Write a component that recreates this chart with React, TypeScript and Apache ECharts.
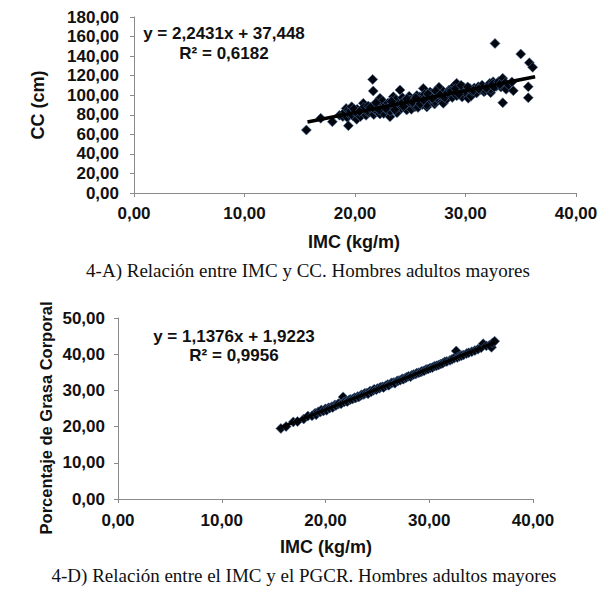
import React, { useEffect, useRef } from "react";
import * as echarts from "echarts";

// IMC (kg/m) vs CC (cm), older adult men
const imcVsCc: [number, number][] = [
  [15.6, 64.4], [16.9, 76.4], [17.95, 72.9], [18.6, 79.5], [18.9, 78.2], [19.0, 81.4],
  [19.1, 83.1], [19.2, 86.5], [19.3, 77.1], [19.4, 68.8], [19.4, 84.9], [19.5, 80.3],
  [19.6, 83.9], [19.7, 88.2], [19.8, 79.0], [20.0, 82.6], [20.15, 75.4], [20.2, 85.7],
  [20.3, 80.1], [20.5, 78.3], [20.6, 84.2], [20.75, 91.7], [20.8, 87.6], [20.9, 81.0],
  [21.0, 79.4], [21.1, 83.1], [21.2, 88.9], [21.3, 82.7], [21.5, 85.1], [21.6, 116.2],
  [21.65, 104.3], [21.6, 85.5], [21.7, 80.2], [21.8, 90.3], [21.9, 84.0], [22.0, 87.2],
  [22.1, 82.5], [22.26, 96.8], [22.26, 80.9], [22.3, 89.6], [22.4, 85.0], [22.5, 94.2],
  [22.6, 81.3], [22.7, 87.9], [22.8, 90.0], [22.9, 84.6], [23.0, 92.1], [23.1, 88.4],
  [23.17, 78.0], [23.2, 83.7], [23.4, 90.8], [23.47, 98.5], [23.5, 86.2], [23.6, 88.0],
  [23.7, 95.6], [23.8, 82.1], [23.9, 89.3], [24.07, 105.3], [24.1, 92.7], [24.2, 86.8],
  [24.3, 97.5], [24.37, 93.4], [24.5, 90.2], [24.6, 87.3], [24.68, 84.9], [24.8, 93.8],
  [24.9, 98.9], [24.98, 95.1], [25.0, 89.1], [25.1, 85.6], [25.3, 95.4], [25.4, 91.7],
  [25.43, 88.3], [25.6, 99.8], [25.7, 87.5], [25.8, 94.3], [25.88, 98.5], [26.0, 96.1],
  [26.1, 90.4], [26.18, 107.0], [26.3, 100.9], [26.4, 93.2], [26.5, 88.0], [26.5, 90.0],
  [26.7, 97.9], [26.8, 103.2], [26.9, 94.6], [26.94, 102.0], [27.1, 99.3], [27.2, 91.0],
  [27.24, 93.4], [27.4, 101.7], [27.5, 96.4], [27.54, 105.3], [27.6, 108.1], [27.8, 98.6],
  [27.9, 93.5], [27.99, 91.7], [28.0, 103.9], [28.2, 100.2], [28.3, 96.0], [28.3, 100.2],
  [28.5, 105.3], [28.6, 101.1], [28.75, 107.0], [28.8, 97.7], [28.9, 103.0], [29.0, 109.8],
  [29.2, 112.2], [29.2, 99.4], [29.3, 106.1], [29.35, 102.0], [29.5, 102.5], [29.7, 98.2],
  [29.8, 105.3], [29.8, 108.4], [30.0, 104.0], [30.1, 101.3], [30.25, 96.8], [30.3, 106.8],
  [30.4, 107.0], [30.5, 99.0], [30.6, 103.9], [30.8, 107.5], [31.0, 102.2], [31.16, 108.7],
  [31.3, 105.6], [31.5, 110.3], [31.67, 103.6], [31.8, 104.7], [32.0, 108.9], [32.2, 112.2],
  [32.28, 102.6], [32.3, 106.0], [32.5, 113.8], [32.5, 111.4], [32.67, 153.0], [32.8, 109.2],
  [33.0, 114.0], [33.2, 108.3], [33.37, 117.3], [33.37, 92.3], [33.6, 112.7], [33.67, 106.0],
  [33.9, 110.5], [34.2, 113.6], [34.33, 104.6], [35.0, 142.1], [35.68, 108.7], [35.68, 97.4],
  [35.78, 133.2], [36.08, 128.5],
  [19.9, 86.1], [20.4, 83.3], [21.4, 87.8], [21.9, 92.4], [22.2, 84.8], [22.8, 86.3],
  [23.3, 93.6], [23.6, 85.1], [24.4, 88.6], [24.7, 96.0], [25.2, 92.9], [25.5, 97.2],
  [25.9, 91.1], [26.2, 95.0], [26.6, 101.4], [27.0, 96.8], [27.3, 104.4], [27.7, 100.5],
  [28.1, 97.9], [28.4, 102.7], [28.7, 104.2], [29.1, 106.7], [29.4, 100.9], [29.6, 110.1],
  [30.2, 108.5], [30.7, 104.8], [31.2, 106.4], [31.9, 107.3], [32.6, 108.1], [33.1, 111.0],
];

// IMC (kg/m) vs body fat percentage, older adult men
const imcVsGrasa: [number, number][] = [
  [15.7, 19.5], [16.2, 20.0], [16.9, 21.3], [17.3, 21.4], [17.9, 22.1], [18.3, 22.9],
  [18.7, 23.0], [19.0, 23.7], [19.1, 23.3], [19.3, 24.1], [19.5, 24.0], [19.6, 24.6],
  [19.8, 24.3], [20.0, 24.9], [20.1, 24.5], [20.3, 25.2], [20.4, 25.1], [20.6, 25.5],
  [20.7, 25.3], [20.9, 26.0], [21.0, 25.8], [21.2, 26.2], [21.3, 26.4], [21.5, 26.3],
  [21.7, 28.2], [21.8, 26.8], [22.0, 27.1], [22.1, 26.9], [22.3, 27.4], [22.4, 27.5],
  [22.6, 27.6], [22.8, 28.0], [22.9, 27.9], [23.1, 28.3], [23.2, 28.2], [23.4, 28.6],
  [23.5, 28.8], [23.7, 28.9], [23.8, 29.2], [24.0, 29.3], [24.1, 29.1], [24.3, 29.8],
  [24.4, 29.6], [24.6, 30.0], [24.7, 30.3], [24.9, 30.2], [25.0, 30.5], [25.2, 30.6],
  [25.3, 30.9], [25.5, 31.0], [25.6, 30.8], [25.8, 31.3], [26.0, 31.6], [26.1, 31.4],
  [26.3, 31.9], [26.4, 32.1], [26.6, 32.2], [26.7, 32.0], [26.9, 32.6], [27.0, 32.7],
  [27.2, 32.8], [27.4, 33.2], [27.5, 33.1], [27.7, 33.4], [27.8, 33.6], [28.0, 33.9],
  [28.2, 33.8], [28.3, 34.2], [28.5, 34.4], [28.7, 34.5], [28.8, 34.8], [29.0, 34.9],
  [29.2, 35.1], [29.3, 35.3], [29.5, 35.4], [29.7, 35.8], [29.9, 35.9], [30.1, 36.2],
  [30.3, 36.3], [30.5, 36.7], [30.7, 36.8], [30.9, 37.0], [31.1, 37.3], [31.3, 37.5],
  [31.5, 37.9], [31.7, 38.0], [32.0, 38.3], [32.2, 38.6], [32.4, 38.9], [32.6, 40.9],
  [32.7, 39.1], [32.9, 39.4], [33.1, 39.6], [33.3, 39.8], [33.6, 40.2], [33.8, 40.4],
  [34.1, 40.7], [34.4, 41.0], [34.7, 41.4], [35.0, 41.8], [35.2, 42.9], [35.5, 42.3],
  [35.8, 42.5], [36.0, 41.9], [36.1, 43.1], [36.3, 43.6],
];

// Linear trend lines (slope, intercept, R²) and the IMC range they span
const trendCc = { slope: 2.2431, intercept: 37.448, r2: 0.6182 };
const trendGrasa = { slope: 1.1376, intercept: 1.9223, r2: 0.9956 };
const trendRange = [15.7, 36.3];

const xTicks = { min: 0, max: 40, interval: 10 };
const yTicksCc = { min: 0, max: 180, interval: 20 };
const yTicksGrasa = { min: 0, max: 50, interval: 10 };

const comma = (v: number, d: number) => v.toFixed(d).replace(".", ",");
const eqText = (t: { slope: number; intercept: number }) =>
  `y = ${comma(t.slope, 4)}x + ${String(t.intercept).replace(".", ",")}`;
const r2Text = (t: { r2: number }) => `R² = ${comma(t.r2, 4)}`;
const linePts = (t: { slope: number; intercept: number }) =>
  trendRange.map((x) => [x, t.slope * x + t.intercept]);

const SANS = "Liberation Sans";
const SERIF = "Liberation Serif";
const INK = "#111111";

export default function App() {
  const ref = useRef<HTMLDivElement>(null);

  useEffect(() => {
    if (!ref.current) return;
    const chart = echarts.init(ref.current, undefined, { renderer: "svg" });

    const axisCommon = {
      axisLine: { lineStyle: { color: "#8a8a8a", width: 1 } },
      axisTick: { show: true, inside: false, length: 4, lineStyle: { color: "#8a8a8a" } },
      splitLine: { show: false },
    };
    const label = (margin: number) => ({
      margin,
      color: INK,
      fontFamily: SANS,
      fontWeight: "bold" as const,
      fontSize: 17,
      formatter: (v: number) => comma(v, 2),
    });

    const marker = (size: number) => ({
      symbol: "diamond",
      symbolSize: size,
      itemStyle: { color: "#03060d", borderColor: "#46699c", borderWidth: 0.6, opacity: 1 },
    });

    const txt = (x: number, y: number, text: string, font: string, rotation = 0) => ({
      type: "text",
      x,
      y,
      rotation,
      style: { text, font, fill: INK, textAlign: "center", textVerticalAlign: "middle" },
    });

    chart.setOption({
      animation: false,
      backgroundColor: "#ffffff",
      grid: [
        { left: 134, top: 17, width: 442, height: 176 },
        { left: 118, top: 318, width: 415, height: 181 },
      ],
      xAxis: [
        { type: "value", gridIndex: 0, ...xTicks, ...axisCommon, axisLabel: label(12) },
        { type: "value", gridIndex: 1, ...xTicks, ...axisCommon, axisLabel: label(13) },
      ],
      yAxis: [
        { type: "value", gridIndex: 0, ...yTicksCc, ...axisCommon, axisLabel: label(15) },
        { type: "value", gridIndex: 1, ...yTicksGrasa, ...axisCommon, axisLabel: label(13) },
      ],
      series: [
        {
          type: "scatter",
          xAxisIndex: 0,
          yAxisIndex: 0,
          data: imcVsCc,
          ...marker(10),
          z: 2,
        },
        {
          type: "line",
          xAxisIndex: 0,
          yAxisIndex: 0,
          data: linePts(trendCc),
          showSymbol: false,
          lineStyle: { color: "#000000", width: 3.5 },
          z: 3,
        },
        {
          type: "scatter",
          xAxisIndex: 1,
          yAxisIndex: 1,
          data: imcVsGrasa,
          ...marker(10),
          z: 2,
        },
        {
          type: "line",
          xAxisIndex: 1,
          yAxisIndex: 1,
          data: linePts(trendGrasa),
          showSymbol: false,
          lineStyle: { color: "#000000", width: 3 },
          z: 3,
        },
      ],
      graphic: [
        // panel A
        txt(224, 33, eqText(trendCc), `bold 17px "${SANS}"`),
        txt(224, 53, r2Text(trendCc), `bold 17px "${SANS}"`),
        txt(38, 105, "CC (cm)", `bold 18px "${SANS}"`, Math.PI / 2),
        txt(354, 242, "IMC (kg/m)", `bold 18px "${SANS}"`),
        txt(308, 270, "4-A) Relación entre IMC y CC. Hombres adultos mayores", `19px "${SERIF}"`),
        // panel D
        txt(234, 336, eqText(trendGrasa), `bold 17px "${SANS}"`),
        txt(234, 355, r2Text(trendGrasa), `bold 17px "${SANS}"`),
        txt(46, 418, "Porcentaje de Grasa Corporal", `bold 16.5px "${SANS}"`, Math.PI / 2),
        txt(326, 547, "IMC (kg/m)", `bold 18px "${SANS}"`),
        txt(304, 575, "4-D) Relación entre el IMC y el PGCR. Hombres adultos mayores", `19px "${SERIF}"`),
      ],
    });

    return () => chart.dispose();
  }, []);

  return (
    <div
      ref={ref}
      style={{ position: "absolute", left: 0, top: 0, width: 612, height: 592, background: "#fff" }}
    />
  );
}
